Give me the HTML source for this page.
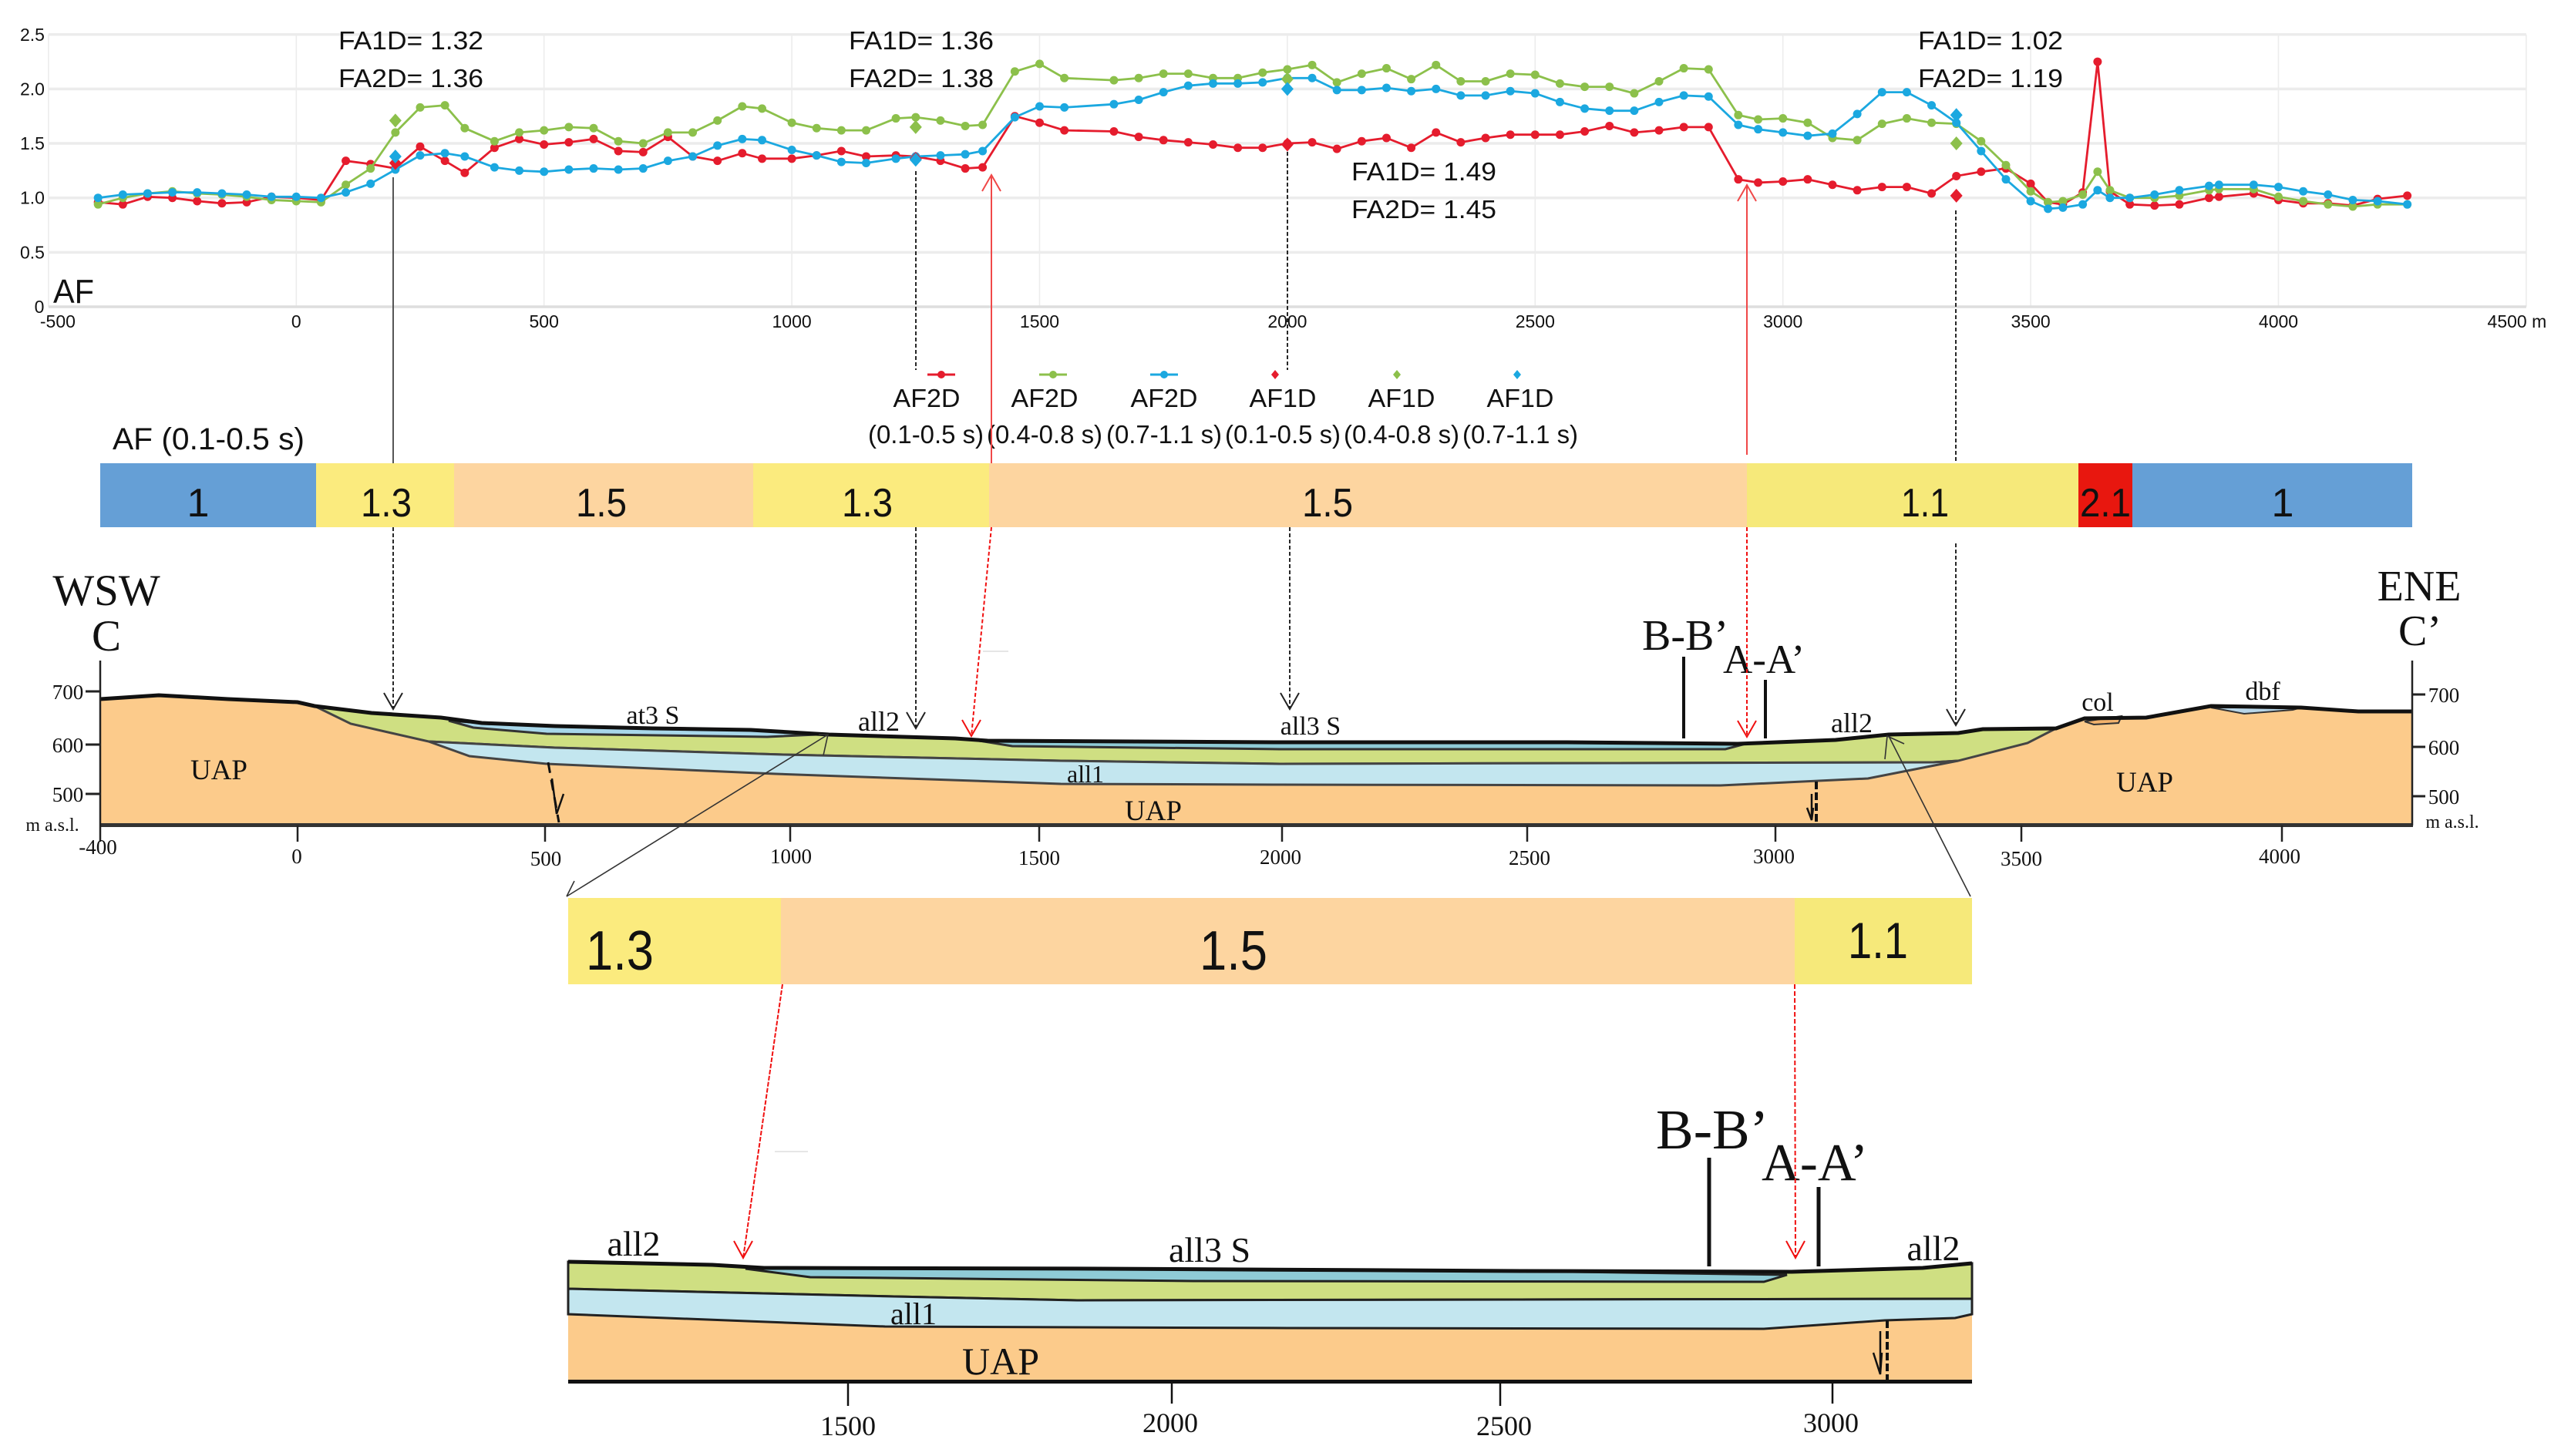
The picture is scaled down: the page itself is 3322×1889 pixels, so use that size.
<!DOCTYPE html>
<html lang="en">
<head>
<meta charset="utf-8">
<title>Amplification factor profile and geological cross-section</title>
<style>
html,body{margin:0;padding:0;background:#fff;width:3322px;height:1889px;overflow:hidden}
svg{display:block}
.s{font-family:"Liberation Sans",sans-serif;fill:#111}
.r{font-family:"Liberation Serif",serif;fill:#111}
.m{text-anchor:middle}
</style>
</head>
<body>
<svg id="fig" xmlns="http://www.w3.org/2000/svg" width="3322" height="1889" viewBox="0 0 3322 1889">
<rect x="0" y="0" width="3322" height="1889" fill="#fff"/>
<g id="chart"></g>

<g>
<text class="s" x="69" y="393" font-size="44" textLength="53" lengthAdjust="spacingAndGlyphs">AF</text>
<g font-size="33" class="s">
<text class="s" x="439" y="64" textLength="188" lengthAdjust="spacingAndGlyphs">FA1D= 1.32</text>
<text class="s" x="439" y="113" textLength="188" lengthAdjust="spacingAndGlyphs">FA2D= 1.36</text>
<text class="s" x="1101" y="64" textLength="188" lengthAdjust="spacingAndGlyphs">FA1D= 1.36</text>
<text class="s" x="1101" y="113" textLength="188" lengthAdjust="spacingAndGlyphs">FA2D= 1.38</text>
<text class="s" x="1753" y="234" textLength="188" lengthAdjust="spacingAndGlyphs">FA1D= 1.49</text>
<text class="s" x="1753" y="283" textLength="188" lengthAdjust="spacingAndGlyphs">FA2D= 1.45</text>
<text class="s" x="2488" y="64" textLength="188" lengthAdjust="spacingAndGlyphs">FA1D= 1.02</text>
<text class="s" x="2488" y="113" textLength="188" lengthAdjust="spacingAndGlyphs">FA2D= 1.19</text>
</g>
</g>

<g font-size="33">
<g>
<line x1="1203" x2="1239" y1="486" y2="486" stroke="#e51c2d" stroke-width="3"/><circle cx="1221" cy="486" r="5" fill="#e51c2d"/>
<text class="s m" x="1202" y="528" textLength="87" lengthAdjust="spacingAndGlyphs">AF2D</text>
<text class="s m" x="1201" y="575" textLength="150" lengthAdjust="spacingAndGlyphs">(0.1-0.5 s)</text></g>
<g>
<line x1="1348" x2="1384" y1="486" y2="486" stroke="#8cc04b" stroke-width="3"/><circle cx="1366" cy="486" r="5" fill="#8cc04b"/>
<text class="s m" x="1355" y="528" textLength="87" lengthAdjust="spacingAndGlyphs">AF2D</text>
<text class="s m" x="1355" y="575" textLength="150" lengthAdjust="spacingAndGlyphs">(0.4-0.8 s)</text></g>
<g>
<line x1="1492" x2="1528" y1="486" y2="486" stroke="#1ba8e0" stroke-width="3"/><circle cx="1510" cy="486" r="5" fill="#1ba8e0"/>
<text class="s m" x="1510" y="528" textLength="87" lengthAdjust="spacingAndGlyphs">AF2D</text>
<text class="s m" x="1510" y="575" textLength="150" lengthAdjust="spacingAndGlyphs">(0.7-1.1 s)</text></g>
<g>
<polygon points="1654,480 1659,486 1654,492 1649,486" fill="#e51c2d"/>
<text class="s m" x="1664" y="528" textLength="87" lengthAdjust="spacingAndGlyphs">AF1D</text>
<text class="s m" x="1664" y="575" textLength="150" lengthAdjust="spacingAndGlyphs">(0.1-0.5 s)</text></g>
<g>
<polygon points="1812,480 1817,486 1812,492 1807,486" fill="#8cc04b"/>
<text class="s m" x="1818" y="528" textLength="87" lengthAdjust="spacingAndGlyphs">AF1D</text>
<text class="s m" x="1818" y="575" textLength="150" lengthAdjust="spacingAndGlyphs">(0.4-0.8 s)</text></g>
<g>
<polygon points="1968,480 1973,486 1968,492 1963,486" fill="#1ba8e0"/>
<text class="s m" x="1972" y="528" textLength="87" lengthAdjust="spacingAndGlyphs">AF1D</text>
<text class="s m" x="1972" y="575" textLength="150" lengthAdjust="spacingAndGlyphs">(0.7-1.1 s)</text></g>
</g>

<text class="s" x="146" y="583" font-size="40" textLength="249" lengthAdjust="spacingAndGlyphs">AF (0.1-0.5 s)</text>

<g>
<rect x="130" y="601" width="280" height="83" fill="#659fd6"/>
<rect x="410" y="601" width="179" height="83" fill="#fbeb7e"/>
<rect x="589" y="601" width="388" height="83" fill="#fdd5a0"/>
<rect x="977" y="601" width="306" height="83" fill="#fbeb7e"/>
<rect x="1283" y="601" width="983" height="83" fill="#fdd5a0"/>
<rect x="2266" y="601" width="430" height="83" fill="#f6e97a"/>
<rect x="2696" y="601" width="70" height="83" fill="#e8170f"/>
<rect x="2766" y="601" width="363" height="83" fill="#659fd6"/>
<g font-size="52">
<text class="s m" x="257" y="670">1</text>
<text class="s m" x="501" y="670" textLength="66" lengthAdjust="spacingAndGlyphs">1.3</text>
<text class="s m" x="780" y="670" textLength="66" lengthAdjust="spacingAndGlyphs">1.5</text>
<text class="s m" x="1125" y="670" textLength="66" lengthAdjust="spacingAndGlyphs">1.3</text>
<text class="s m" x="1722" y="670" textLength="66" lengthAdjust="spacingAndGlyphs">1.5</text>
<text class="s m" x="2497" y="670" textLength="62" lengthAdjust="spacingAndGlyphs">1.1</text>
<text class="s m" x="2731" y="670" textLength="66" lengthAdjust="spacingAndGlyphs">2.1</text>
<text class="s m" x="2961" y="670">1</text>
</g>
</g>

<g>
<polygon fill="#fccb8b" points="130,907 206,902 296,907 386,911 408,916 482,925 572,931 625,938 720,942 847,945 974,947 1075,953 1239,958 1281,961 1660,963 2031,963 2254,965 2381,960 2450,953 2540,951 2572,946 2667,945 2704,932 2784,931 2868,916 2985,918 3059,923 3129,923 3129,1070 130,1070"/>
<polygon fill="#cfdf82" stroke="#444" stroke-width="3" points="408,916 482,925 572,931 625,938 720,942 847,945 974,947 1075,953 1239,958 1281,961 1660,963 2031,963 2254,965 2381,960 2450,953 2540,951 2572,946 2667,945 2630,964 2540,987 2508,989 1660,991 1376,987 1016,979 720,970 556,962 455,939"/>
<polygon fill="#c3e6ef" stroke="#444" stroke-width="3" points="556,962 720,970 1016,979 1376,987 1660,991 2508,989 2540,987 2423,1010 2232,1019 1660,1018 1376,1017 1006,1004 709,991 609,981"/>
<polygon fill="#8fcbd6" stroke="#333" stroke-width="3" points="1270,961 1660,963 2031,963 2254,965 2264,965 2238,972 1660,972 1313,968"/>
<polygon fill="#a8d7ea" stroke="#333" stroke-width="3" points="582,935 625,938 720,942 847,945 974,947 1059,953 995,956 709,952 614,944"/>
<polygon fill="#b8d6e8" stroke="#333" stroke-width="2" points="2868,918 2985,918 2974,921 2911,926"/>
<polygon fill="#f2b26c" stroke="#333" stroke-width="2" points="2704,936 2752,929 2748,938 2716,940"/>
<polyline fill="none" stroke="#111" stroke-width="5" points="130,907 206,902 296,907 386,911 408,916 482,925 572,931 625,938 720,942 847,945 974,947 1075,953 1239,958 1281,961 1660,963 2031,963 2254,965 2381,960 2450,953 2540,951 2572,946 2667,945 2704,932 2784,931 2868,916 2985,918 3059,923 3129,923"/>
<rect x="130" y="1068" width="3000" height="5" fill="#333"/>
<line x1="130" x2="130" y1="857" y2="1071" stroke="#222" stroke-width="2.5"/>
<line x1="3129" x2="3129" y1="857" y2="1071" stroke="#222" stroke-width="2.5"/>
<g stroke="#222" stroke-width="3">
<line x1="111" x2="130" y1="897" y2="897"/><line x1="111" x2="130" y1="966" y2="966"/><line x1="111" x2="130" y1="1030" y2="1030"/>
<line x1="3129" x2="3146" y1="901" y2="901"/><line x1="3129" x2="3146" y1="969" y2="969"/><line x1="3129" x2="3146" y1="1033" y2="1033"/>
</g>
<g stroke="#222" stroke-width="2.5">
<line x1="130" x2="130" y1="1071" y2="1092"/><line x1="386" x2="386" y1="1071" y2="1092"/><line x1="707" x2="707" y1="1071" y2="1092"/><line x1="1025" x2="1025" y1="1071" y2="1092"/><line x1="1348" x2="1348" y1="1071" y2="1092"/><line x1="1663" x2="1663" y1="1071" y2="1092"/><line x1="1981" x2="1981" y1="1071" y2="1092"/><line x1="2303" x2="2303" y1="1071" y2="1092"/><line x1="2622" x2="2622" y1="1071" y2="1092"/><line x1="2960" x2="2960" y1="1071" y2="1092"/>
</g>
<g font-size="27">
<text class="r m" x="88" y="907">700</text>
<text class="r m" x="88" y="976">600</text>
<text class="r m" x="88" y="1040">500</text>
<text class="r m" x="3170" y="911">700</text>
<text class="r m" x="3170" y="979">600</text>
<text class="r m" x="3170" y="1043">500</text>
<text class="r m" x="127" y="1108">-400</text>
<text class="r m" x="385" y="1120">0</text>
<text class="r m" x="708" y="1123">500</text>
<text class="r m" x="1026" y="1120">1000</text>
<text class="r m" x="1348" y="1122">1500</text>
<text class="r m" x="1661" y="1121">2000</text>
<text class="r m" x="1984" y="1122">2500</text>
<text class="r m" x="2301" y="1120">3000</text>
<text class="r m" x="2622" y="1123">3500</text>
<text class="r m" x="2957" y="1120">4000</text>
</g>
<text class="r m" x="68" y="1078" font-size="24">m a.s.l.</text>
<text class="r m" x="3181" y="1074" font-size="24">m a.s.l.</text>
<text class="r m" x="138" y="785" font-size="57">WSW</text>
<text class="r m" x="138" y="844" font-size="57">C</text>
<text class="r m" x="3138" y="779" font-size="56">ENE</text>
<text class="r m" x="3139" y="837" font-size="56">C’</text>
<text class="r m" x="2186" y="843" font-size="56">B-B’</text>
<text class="r m" x="2288" y="873" font-size="53">A-A’</text>
<line x1="2184" x2="2184" y1="852" y2="958" stroke="#111" stroke-width="4"/>
<line x1="2290" x2="2290" y1="882" y2="958" stroke="#111" stroke-width="4"/>
<text class="r m" x="284" y="1011" font-size="37">UAP</text>
<text class="r m" x="1496" y="1064" font-size="37">UAP</text>
<text class="r m" x="2782" y="1027" font-size="37">UAP</text>
<text class="r m" x="847" y="939" font-size="34">at3 S</text>
<text class="r m" x="1140" y="948" font-size="36">all2</text>
<text class="r m" x="1700" y="953" font-size="34">all3 S</text>
<text class="r m" x="1408" y="1015" font-size="32">all1</text>
<text class="r m" x="2402" y="950" font-size="36">all2</text>
<text class="r m" x="2721" y="922" font-size="34">col</text>
<text class="r m" x="2935" y="908" font-size="34">dbf</text>
<line x1="711" y1="989" x2="725" y2="1067" stroke="#111" stroke-width="3" stroke-dasharray="14 9"/>
<path d="M716 1010 L722 1056 L731 1030" fill="none" stroke="#111" stroke-width="2.5"/>
<line x1="2356" y1="1014" x2="2356" y2="1069" stroke="#111" stroke-width="4" stroke-dasharray="10 4"/>
<path d="M2350 1030 L2350 1064 M2344 1048 L2350 1064 L2352 1048" fill="none" stroke="#111" stroke-width="2.5"/>
</g>

<g fill="none">
<g stroke="#444" stroke-width="1.8">
<line x1="510" y1="230" x2="510" y2="601"/>
</g>
<g stroke="#111" stroke-width="1.8" stroke-dasharray="5 3">
<line x1="1188" y1="222" x2="1188" y2="480"/>
<line x1="1670" y1="197" x2="1670" y2="480"/>
<line x1="2537" y1="273" x2="2537" y2="601"/>
<line x1="510" y1="684" x2="510" y2="920"/>
<line x1="1188" y1="684" x2="1188" y2="945"/>
<line x1="1673" y1="684" x2="1673" y2="920"/>
<line x1="2537" y1="705" x2="2537" y2="941"/>
</g>
<g stroke="#222" stroke-width="2">
<path d="M498 899 L510 920 L522 899"/>
<path d="M1176 924 L1188 945 L1200 924"/>
<path d="M1661 899 L1673 920 L1685 899"/>
<path d="M2525 920 L2537 941 L2549 920"/>
</g>
<g stroke="#f04848" stroke-width="2">
<line x1="1286" y1="227" x2="1286" y2="601"/>
<line x1="2266" y1="240" x2="2266" y2="590"/>
<path d="M1274 248 L1286 227 L1298 248"/>
<path d="M2254 261 L2266 240 L2278 261"/>
</g>
<g stroke="#f01010" stroke-width="2">
<line x1="1286" y1="684" x2="1260" y2="955" stroke-dasharray="5 3"/>
<line x1="2266" y1="684" x2="2266" y2="956" stroke-dasharray="5 3"/>
<path d="M1248 934 L1260 955 L1272 934"/>
<path d="M2254 935 L2266 956 L2278 935"/>
</g>
<g stroke="#333" stroke-width="1.6">
<line x1="1074" y1="953" x2="735" y2="1163"/>
<path d="M1062 953 L1074 953 L1068 980"/>
<line x1="2450" y1="955" x2="2556" y2="1163"/>
<path d="M2445 985 L2448 955 L2470 965"/>
</g>
<line x1="1275" y1="845" x2="1308" y2="845" stroke="#e6e6e6" stroke-width="2"/>
<line x1="1005" y1="1494" x2="1048" y2="1494" stroke="#e6e6e6" stroke-width="2"/>
</g>

<g>
<rect x="737" y="1165" width="276" height="112" fill="#fbeb7e"/>
<rect x="1013" y="1165" width="1315" height="112" fill="#fdd5a0"/>
<rect x="2328" y="1165" width="230" height="112" fill="#f6e97a"/>
<text class="s m" x="804" y="1258" font-size="72" textLength="88" lengthAdjust="spacingAndGlyphs">1.3</text>
<text class="s m" x="1600" y="1258" font-size="72" textLength="88" lengthAdjust="spacingAndGlyphs">1.5</text>
<text class="s m" x="2436" y="1243" font-size="66" textLength="78" lengthAdjust="spacingAndGlyphs">1.1</text>
</g>

<g>
<polygon fill="#fccb8b" points="737,1637 924,1641 991,1645 1427,1646 1973,1649 2324,1650 2494,1645 2558,1639 2558,1793 737,1793"/>
<polygon fill="#cfdf82" stroke="#222" stroke-width="3" points="737,1637 924,1641 991,1645 1427,1646 1973,1649 2324,1650 2494,1645 2558,1639 2558,1685 1397,1687 1160,1682 737,1672"/>
<polygon fill="#c3e6ef" stroke="#222" stroke-width="3" points="737,1672 1160,1682 1397,1687 2558,1685 2558,1705 2536,1710 2445,1713 2288,1724 1670,1723 1148,1721 737,1705"/>
<polygon fill="#8fcbd6" stroke="#222" stroke-width="3" points="967,1646 1427,1646 1973,1649 2318,1654 2288,1663 1548,1662 1051,1657"/>
<polyline fill="none" stroke="#111" stroke-width="5" points="737,1637 924,1641 991,1645 1427,1646 1973,1649 2324,1650 2494,1645 2558,1639"/>
<rect x="737" y="1790" width="1821" height="5" fill="#111"/>
<g stroke="#111" stroke-width="2.5">
<line x1="1100" x2="1100" y1="1793" y2="1824"/><line x1="1520" x2="1520" y1="1790" y2="1821"/><line x1="1946" x2="1946" y1="1793" y2="1824"/><line x1="2377" x2="2377" y1="1793" y2="1821"/>
</g>
<g font-size="36">
<text class="r m" x="1100" y="1862">1500</text>
<text class="r m" x="1518" y="1858">2000</text>
<text class="r m" x="1951" y="1862">2500</text>
<text class="r m" x="2375" y="1858">3000</text>
</g>
<text class="r m" x="822" y="1629" font-size="46">all2</text>
<text class="r m" x="1569" y="1637" font-size="46">all3 S</text>
<text class="r m" x="2508" y="1635" font-size="46">all2</text>
<text class="r m" x="1185" y="1718" font-size="40">all1</text>
<text class="r m" x="1298" y="1783" font-size="50">UAP</text>
<text class="r m" x="2221" y="1490" font-size="73">B-B’</text>
<text class="r m" x="2354" y="1531" font-size="69">A-A’</text>
<line x1="2217" x2="2217" y1="1502" y2="1643" stroke="#111" stroke-width="5"/>
<line x1="2359" x2="2359" y1="1540" y2="1643" stroke="#111" stroke-width="5"/>
<line x1="2448" y1="1713" x2="2448" y2="1793" stroke="#111" stroke-width="4" stroke-dasharray="10 4"/>
<path d="M2439 1727 L2439 1783 M2430 1755 L2439 1783 L2441 1755" fill="none" stroke="#111" stroke-width="2.5"/>
<line x1="1015" y1="1277" x2="964" y2="1632" stroke="#f01010" stroke-width="2" stroke-dasharray="6 2"/>
<path d="M952 1610 L964 1632 L976 1610" fill="none" stroke="#f01010" stroke-width="2"/>
<line x1="2328" y1="1277" x2="2329" y2="1632" stroke="#f01010" stroke-width="2" stroke-dasharray="6 3"/>
<path d="M2317 1610 L2329 1632 L2341 1610" fill="none" stroke="#f01010" stroke-width="2"/>
<path d="M735 1163 L745 1143" fill="none" stroke="#333" stroke-width="1.6"/>
</g>

<script>
const distances = [-400,-350,-300,-250,-200,-150,-100,-50,0,50,100,150,200,250,300,340,400,450,500,550,600,650,700,750,800,850,900,940,1000,1050,1100,1150,1210,1250,1300,1350,1385,1450,1500,1550,1650,1700,1750,1800,1850,1900,1950,2000,2050,2100,2150,2200,2250,2300,2350,2400,2450,2500,2550,2600,2650,2700,2750,2800,2850,2910,2950,3000,3050,3100,3150,3200,3250,3300,3350,3400,3450,3500,3535,3565,3605,3635,3660,3700,3750,3800,3860,3880,3950,4000,4050,4100,4150,4200,4260];
const af2dShort = [.96,.94,1.01,1.00,.97,.95,.96,1.01,1.00,.98,1.34,1.31,1.27,1.47,1.34,1.23,1.46,1.54,1.49,1.51,1.54,1.43,1.42,1.56,1.38,1.34,1.41,1.36,1.36,1.39,1.43,1.38,1.39,1.38,1.34,1.27,1.28,1.75,1.69,1.62,1.61,1.56,1.53,1.51,1.49,1.46,1.46,1.50,1.51,1.45,1.52,1.55,1.46,1.60,1.51,1.55,1.58,1.58,1.58,1.61,1.66,1.60,1.62,1.65,1.65,1.17,1.14,1.15,1.17,1.12,1.07,1.10,1.10,1.04,1.20,1.24,1.27,1.13,.96,.94,1.05,2.25,1.06,.94,.93,.94,1.00,1.01,1.04,.98,.95,.95,.93,.99,1.02];
const af2dMid = [.94,1.00,1.04,1.06,1.04,1.03,1.01,.98,.97,.96,1.12,1.27,1.60,1.83,1.85,1.64,1.52,1.60,1.62,1.65,1.64,1.52,1.50,1.60,1.60,1.71,1.84,1.82,1.69,1.64,1.62,1.62,1.73,1.74,1.71,1.66,1.67,2.16,2.23,2.10,2.08,2.10,2.14,2.14,2.10,2.10,2.15,2.18,2.22,2.06,2.14,2.19,2.09,2.22,2.07,2.07,2.14,2.13,2.05,2.02,2.02,1.96,2.07,2.19,2.18,1.76,1.72,1.73,1.69,1.55,1.53,1.68,1.73,1.69,1.68,1.52,1.30,1.06,.96,.97,1.03,1.24,1.07,1.00,1.00,1.02,1.07,1.08,1.08,1.01,.97,.94,.92,.94,.94];
const af2dLong = [1.00,1.03,1.04,1.05,1.05,1.04,1.03,1.01,1.01,1.00,1.05,1.13,1.26,1.39,1.41,1.38,1.28,1.25,1.24,1.26,1.27,1.26,1.27,1.34,1.38,1.48,1.54,1.53,1.44,1.39,1.33,1.32,1.36,1.38,1.39,1.40,1.43,1.74,1.84,1.83,1.86,1.90,1.97,2.03,2.05,2.05,2.06,2.10,2.10,1.99,1.99,2.01,1.98,2.00,1.94,1.94,1.98,1.96,1.88,1.82,1.80,1.80,1.88,1.94,1.93,1.67,1.63,1.60,1.57,1.59,1.77,1.97,1.97,1.85,1.69,1.43,1.17,.97,.90,.91,.94,1.07,1.00,1.00,1.03,1.07,1.11,1.12,1.12,1.10,1.06,1.03,.98,.97,.94];
const fa1dDistances = [200,1250,2000,3350];
const fa1dShort = [1.32,1.36,1.49,1.02];
const fa1dMid = [1.71,1.65,2.09,1.50];
const fa1dLong = [1.38,1.35,2.00,1.76];
const xTickValues = [-500,0,500,1000,1500,2000,2500,3000,3500,4000,4500];
const xTickLabels = ["-500","0","500","1000","1500","2000","2500","3000","3500","4000","4500 m"];
const yTickValues = [0,0.5,1,1.5,2,2.5];
const yTickLabels = ["0","0.5","1.0","1.5","2.0","2.5"];

const NS = 'http://www.w3.org/2000/svg';
const chart = document.getElementById('chart');
const xScale = m => 384.3 + m * 0.6428;
const yScale = v => 398 - 141.3 * v;
function mk(tag, attrs, parent) {
  const el = document.createElementNS(NS, tag);
  for (const k in attrs) el.setAttribute(k, attrs[k]);
  parent.appendChild(el);
  return el;
}

const grid = mk('g', {}, chart);


xTickValues.forEach((v, i) => {
  const line = mk('line', {x1: xScale(v), x2: xScale(v), y1: yScale(2.5), y2: yScale(0), stroke: '#ececec', 'stroke-width': 1.6}, grid);
  
  
  const edgeShift = i === 0 ? 12 : (i === xTickValues.length - 1 ? -12 : 0);
  const t = mk('text', {x: xScale(v) + edgeShift, y: 425, 'font-size': 23, class: 's m'}, chart);
  t.textContent = xTickLabels[i];
  
  
});
yTickValues.forEach((v, i) => {
  const line = mk('line', {x1: xScale(-500), x2: xScale(4500), y1: yScale(v), y2: yScale(v), stroke: v === 0 ? '#dedede' : '#ececec', 'stroke-width': 3.5}, grid);
  
  
  const t = mk('text', {x: v === 0 ? 51 : 42, y: yScale(v) + 8, 'font-size': 23, class: 's m'}, chart);
  t.textContent = yTickLabels[i];
  
  
});

function drawSeries(name, values, color) {
  const g = mk('g', {}, chart);
  
  
  const pts = values.map((v, i) => xScale(distances[i]).toFixed(1) + ',' + yScale(v).toFixed(1)).join(' ');
  const line = mk('polyline', {points: pts, fill: 'none', stroke: color, 'stroke-width': 2.8, 'stroke-linejoin': 'round'}, g);
  
  
  values.forEach((v, i) => {
    const dot = mk('circle', {cx: xScale(distances[i]), cy: yScale(v), r: 5.5, fill: color}, g);
    
    
  });
}
function drawDiamonds(name, values, color) {
  values.forEach((v, i) => {
    const x = xScale(fa1dDistances[i]);
    const y = yScale(v);
    const d = mk('polygon', {points: `${x},${y - 9} ${x + 8},${y} ${x},${y + 9} ${x - 8},${y}`, fill: color}, chart);
    
    
  });
}
drawSeries('af2d-0.1-0.5-series', af2dShort, '#e51c2d');
drawSeries('af2d-0.4-0.8-series', af2dMid, '#8cc04b');
drawSeries('af2d-0.7-1.1-series', af2dLong, '#1ba8e0');
drawDiamonds('af1d-0.1-0.5-marker', fa1dShort, '#e51c2d');
drawDiamonds('af1d-0.4-0.8-marker', fa1dMid, '#8cc04b');
drawDiamonds('af1d-0.7-1.1-marker', fa1dLong, '#1ba8e0');
</script>
</svg>
</body>
</html>
